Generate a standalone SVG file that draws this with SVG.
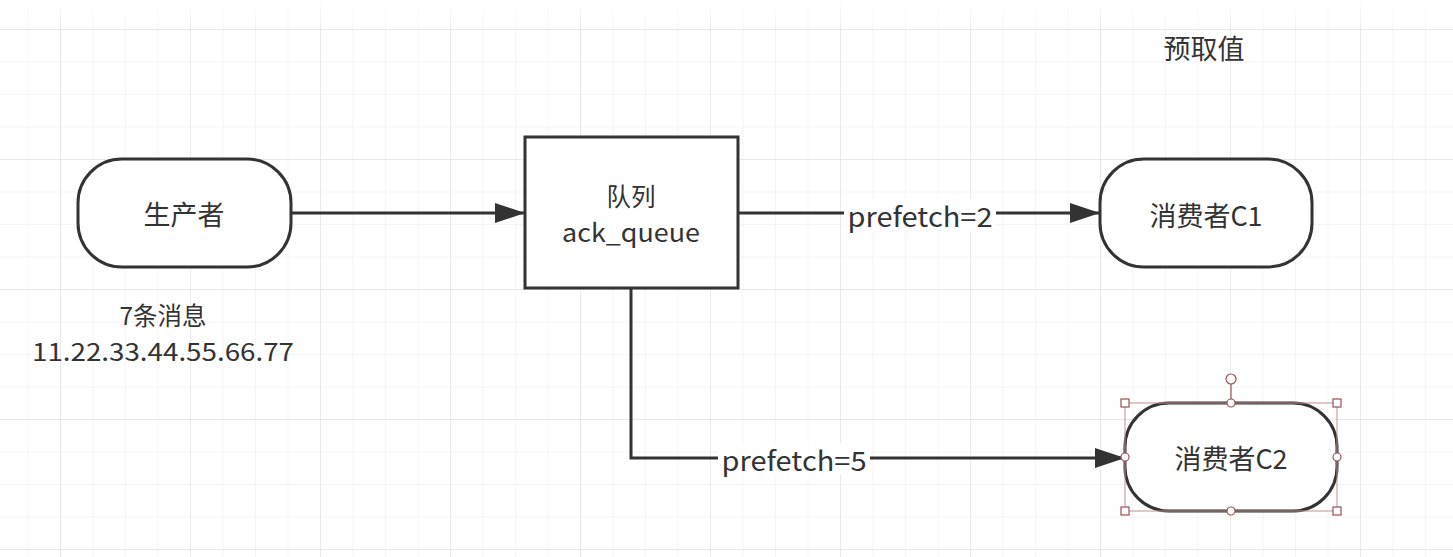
<svg xmlns="http://www.w3.org/2000/svg" width="1453" height="557" viewBox="0 0 1453 557">
<defs>
<pattern id="minor" width="32.5" height="32.5" patternUnits="userSpaceOnUse" x="27.5" y="29">
<path d="M0 0 H32.5 M0 0 V32.5" fill="none" stroke="#ececec" stroke-width="1"/>
</pattern>
<pattern id="major" width="130" height="130" patternUnits="userSpaceOnUse" x="60" y="29">
<path d="M0 0 H130 M0 0 V130" fill="none" stroke="#e3e3e3" stroke-width="1.3"/>
</pattern>
<linearGradient id="fade" x1="0" y1="0" x2="0" y2="1">
<stop offset="0" stop-color="#fff" stop-opacity="1"/>
<stop offset="1" stop-color="#fff" stop-opacity="0"/>
</linearGradient>
<marker id="arr" markerWidth="30" markerHeight="20" viewBox="0 0 30 20" refX="29" refY="10" orient="auto" markerUnits="userSpaceOnUse">
<path d="M0 0 L30 10 L0 20 Z" fill="#333"/>
</marker>
</defs>
<style>
.node{fill:#fff;stroke:#333;stroke-width:3}
.edge{fill:none;stroke:#333;stroke-width:3}
.t{font-family:"Microsoft YaHei","Noto Sans CJK SC","Noto Sans",sans-serif;font-size:27px;fill:#333;text-anchor:middle;dominant-baseline:central}
.t2{font-size:24.5px}
.lbl{fill:#fff}
.sel{fill:none;stroke:#c09090;stroke-width:1}
.h{fill:#fff;stroke:#9a5050;stroke-width:1.2}
</style>
<rect width="1453" height="557" fill="#fff"/>
<rect width="1453" height="557" fill="url(#minor)"/>
<rect width="1453" height="557" fill="url(#major)"/>
<rect width="1453" height="26" fill="url(#fade)"/>

<g id="connectors">
<path class="edge" d="M291 213 H524" marker-end="url(#arr)"/>
<path class="edge" d="M738 213 H1099" marker-end="url(#arr)"/>
<path class="edge" d="M631 288 V458 H1124" marker-end="url(#arr)"/>
<rect class="lbl" x="844" y="199" width="152" height="32"/>
<text class="t" x="920" y="215" textLength="145" lengthAdjust="spacingAndGlyphs">prefetch=2</text>
<rect class="lbl" x="718" y="443" width="152" height="32"/>
<text class="t" x="794" y="459" textLength="145" lengthAdjust="spacingAndGlyphs">prefetch=5</text>
</g>

<g id="producer">
<rect class="node" x="78" y="159" width="213" height="108" rx="44" ry="44"/>
<text class="t" x="184" y="213">生产者</text>
</g>

<g id="queue">
<rect class="node" x="525" y="137" width="213" height="151"/>
<text class="t t2" x="631" y="195">队列<tspan x="631" dy="36" textLength="138" lengthAdjust="spacingAndGlyphs">ack_queue</tspan></text>
</g>

<g id="c1">
<rect class="node" x="1100" y="159" width="212" height="108" rx="44" ry="44"/>
<text class="t" x="1206" y="214">消费者C1</text>
</g>

<g id="c2">
<rect class="node" x="1125" y="403" width="212" height="108" rx="44" ry="44"/>
<text class="t" x="1231" y="457">消费者C2</text>
<rect class="sel" x="1125" y="403" width="212" height="108"/>
<line x1="1231" y1="384" x2="1231" y2="403" stroke="#9a5050" stroke-width="1.2"/>
<circle class="h" cx="1231" cy="379" r="5"/>
<rect class="h" x="1121" y="399" width="8" height="8"/>
<rect class="h" x="1333" y="399" width="8" height="8"/>
<rect class="h" x="1121" y="507" width="8" height="8"/>
<rect class="h" x="1333" y="507" width="8" height="8"/>
<circle class="h" cx="1231" cy="403" r="4"/>
<circle class="h" cx="1231" cy="511" r="4"/>
<circle class="h" cx="1125" cy="457" r="4"/>
<circle class="h" cx="1337" cy="457" r="4"/>
</g>

<g id="messages">
<text class="t t2" x="163" y="314">7条消息<tspan x="163" dy="36" textLength="262" lengthAdjust="spacingAndGlyphs">11.22.33.44.55.66.77</tspan></text>
</g>

<g id="prefetch-title">
<text class="t" x="1204" y="47">预取值</text>
</g>
</svg>
